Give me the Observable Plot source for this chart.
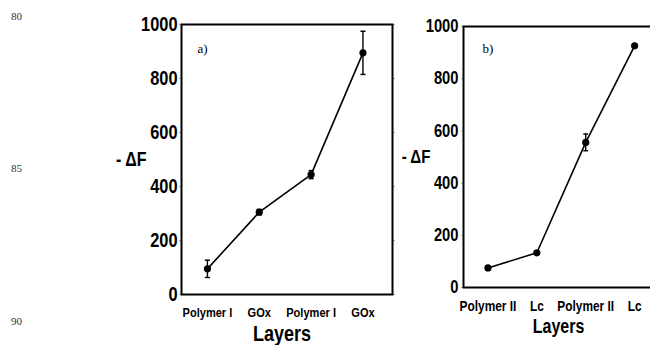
<!DOCTYPE html>
<html>
<head>
<meta charset="utf-8">
<script src="https://cdn.jsdelivr.net/npm/d3@7"></script>
<script src="https://cdn.jsdelivr.net/npm/@observablehq/plot@0.6"></script>
<style>
  html, body { margin: 0; padding: 0; background: #fff; }
  #page { position: relative; width: 650px; height: 345px; overflow: hidden; background: #fff; }
  .ln { position: absolute; left: 11px; font-family: "Liberation Serif", "DejaVu Serif", serif; font-size: 11px; color: #333; }
  .panel { position: absolute; top: 0; }
  .panel svg { overflow: visible; max-width: none !important; }
</style>
</head>
<body>
<div id="page">
  <div class="ln" style="top:10px">80</div>
  <div class="ln" style="top:162px">85</div>
  <div class="ln" style="top:315px">90</div>
  <div id="pa" class="panel" style="left:100px; width:300px"></div>
  <div id="pb" class="panel" style="left:380px; width:281px"></div>
</div>
<script>
// Panel a)
const layersA = ["Polymer I", "GOx", "Polymer I", "GOx"];
const valuesA = [95, 305, 444, 895];
const errorsA = [32, 10, 15, 80];
// Panel b)
const layersB = ["Polymer II", "Lc", "Polymer II", "Lc"];
const valuesB = [75, 133, 556, 926];
const errorsB = [6, 6, 32, 6];
const yTicks = [0, 200, 400, 600, 800, 1000];

const font = '"Liberation Sans", Arial, sans-serif';
const SQUEEZE = 0.82;

function panel(opts) {
  const data = opts.layers.map((l, i) => ({i: i + 1, layer: l, v: opts.values[i], e: opts.errors[i]}));
  const cap = opts.cap;
  const svg = Plot.plot({
    width: opts.width,
    height: 345,
    marginLeft: opts.ml,
    marginRight: opts.mr,
    marginTop: opts.mt,
    marginBottom: opts.mb,
    style: {fontFamily: font, fontWeight: "bold", color: "#000", background: "transparent", overflow: "visible"},
    x: {domain: opts.xdomain},
    y: {domain: [0, 1000]},
    marks: [
      Plot.axisY({ticks: yTicks, tickSize: 0, tickPadding: opts.ytp, fontSize: opts.yfs, label: null, fontWeight: "bold", tickFormat: d3.format("d")}),
      Plot.axisY({ticks: yTicks, tickSize: 2, tickFormat: () => "", stroke: "#aaa", label: null}),
      Plot.axisY({ticks: yTicks, anchor: "right", tickSize: 2, tickFormat: () => "", stroke: "#aaa", label: null}),
      Plot.axisX({ticks: [1, 2, 3, 4], tickSize: 0, tickPadding: opts.xtp, fontSize: opts.xfs,
        tickFormat: i => opts.layers[i - 1], label: null, fontWeight: "bold"}),
      Plot.frame({stroke: "#000", strokeWidth: 2}),
      Plot.line(data, {x: "i", y: "v", stroke: "#000", strokeWidth: 1.6}),
      Plot.ruleX(data, {x: "i", y1: d => d.v - d.e, y2: d => d.v + d.e, stroke: "#000", strokeWidth: 1.4}),
      Plot.link(data, {x1: d => d.i - cap, x2: d => d.i + cap, y1: d => d.v + d.e, y2: d => d.v + d.e, stroke: "#000", strokeWidth: 1.4}),
      Plot.link(data, {x1: d => d.i - cap, x2: d => d.i + cap, y1: d => d.v - d.e, y2: d => d.v - d.e, stroke: "#000", strokeWidth: 1.4}),
      Plot.dot(data, {x: "i", y: "v", r: 3.6, fill: "#000"}),
      Plot.text([opts.tag], {frameAnchor: "top-left", dx: opts.tagdx, dy: opts.tagdy, textAnchor: "start", lineAnchor: "middle",
        fontFamily: '"Liberation Serif", "DejaVu Serif", serif', fontWeight: "normal", fontSize: 13, fill: "#000", className: "serif"}),
      Plot.text(["- ΔF"], {frameAnchor: "left", dx: opts.ylx, textAnchor: "end", lineAnchor: "middle",
        fontSize: opts.ylfs, fontWeight: "bold", fill: "#000"}),
      Plot.text(["Layers"], {frameAnchor: "bottom", dx: opts.xldx, dy: opts.xldy, lineAnchor: "middle",
        fontSize: opts.xlfs, fontWeight: "bold", fill: "#000"})
    ]
  });
  // narrow the sans-serif labels horizontally around their anchor points (Arial Narrow look)
  svg.querySelectorAll("text").forEach(t => {
    if (t.closest(".serif")) return;
    let x = parseFloat(t.getAttribute("x"));
    if (!isFinite(x)) x = 0;
    const tr = t.getAttribute("transform") || "";
    t.setAttribute("transform", `${tr} translate(${x},0) scale(${SQUEEZE},1) translate(${-x},0)`.trim());
  });
  return svg;
}

document.getElementById("pa").append(panel({
  layers: layersA, values: valuesA, errors: errorsA,
  width: 300, ml: 81, mr: 8, mt: 24, mb: 51,
  xdomain: [0.5, 4.57], cap: 0.05,
  ytp: 4, yfs: 20, xtp: 13, xfs: 13.5,
  tag: "a)", tagdx: 16, tagdy: 24,
  ylx: -35, ylfs: 19.5,
  xldx: -5, xldy: 39, xlfs: 22
}));

document.getElementById("pb").append(panel({
  layers: layersB, values: valuesB, errors: errorsB,
  width: 281, ml: 83, mr: 0, mt: 26, mb: 58,
  xdomain: [0.5, 4.55], cap: 0.05,
  ytp: 5, yfs: 18, xtp: 13, xfs: 14.5,
  tag: "b)", tagdx: 19, tagdy: 22,
  ylx: -33, ylfs: 18.5,
  xldx: -4, xldy: 39, xlfs: 19.5
}));
</script>
</body>
</html>
